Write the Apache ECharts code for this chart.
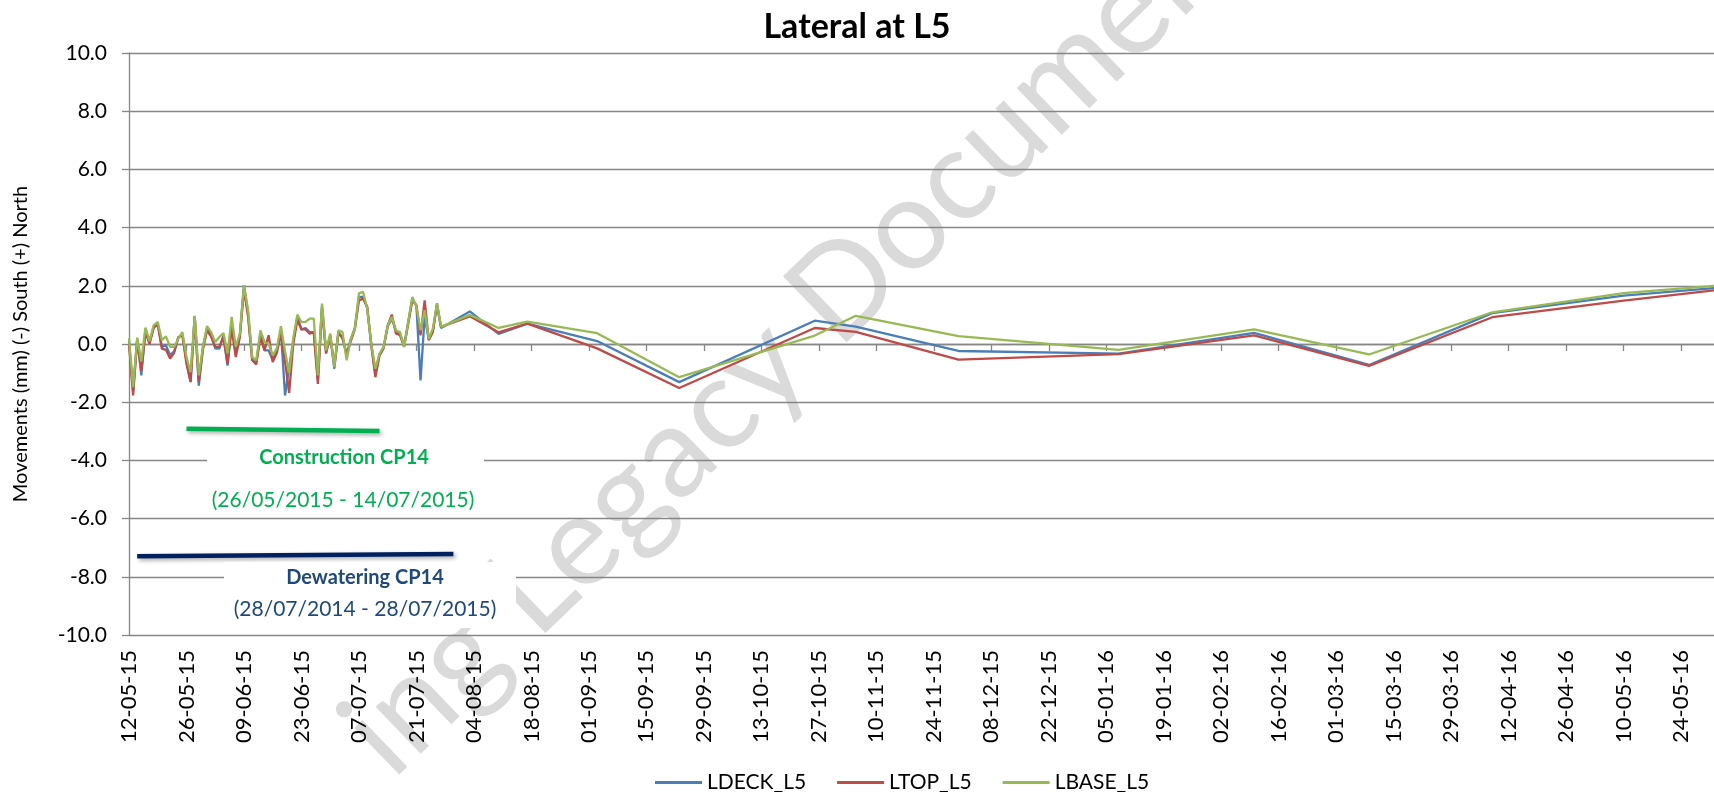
<!DOCTYPE html>
<html>
<head>
<meta charset="utf-8">
<title>Lateral at L5</title>
<script src="https://cdn.jsdelivr.net/npm/echarts@6/dist/echarts.min.js"></script>
<style>
  html, body { margin: 0; padding: 0; background: #ffffff; }
  #chart { width: 1714px; height: 792px; }
</style>
</head>
<body>
<div id="chart"></div>
<script>
// survey dates (readings)
const readingDates = [
  "2015-05-12", "2015-05-13", "2015-05-14", "2015-05-15", "2015-05-16", "2015-05-17", "2015-05-18", "2015-05-19", "2015-05-20", "2015-05-21",
  "2015-05-22", "2015-05-23", "2015-05-24", "2015-05-25", "2015-05-26", "2015-05-27", "2015-05-28", "2015-05-29", "2015-05-30", "2015-05-31",
  "2015-06-01", "2015-06-02", "2015-06-03", "2015-06-04", "2015-06-05", "2015-06-06", "2015-06-07", "2015-06-08", "2015-06-09", "2015-06-10",
  "2015-06-11", "2015-06-12", "2015-06-13", "2015-06-14", "2015-06-15", "2015-06-16", "2015-06-17", "2015-06-18", "2015-06-19", "2015-06-20",
  "2015-06-21", "2015-06-22", "2015-06-23", "2015-06-24", "2015-06-25", "2015-06-26", "2015-06-27", "2015-06-28", "2015-06-29", "2015-06-30",
  "2015-07-01", "2015-07-02", "2015-07-03", "2015-07-04", "2015-07-05", "2015-07-06", "2015-07-07", "2015-07-08", "2015-07-09", "2015-07-10",
  "2015-07-11", "2015-07-12", "2015-07-13", "2015-07-14", "2015-07-15", "2015-07-16", "2015-07-17", "2015-07-18", "2015-07-20",
  "2015-07-21", "2015-07-22", "2015-07-23", "2015-07-24", "2015-07-25", "2015-07-26", "2015-07-27",
  "2015-08-03", "2015-08-10", "2015-08-17", "2015-09-03", "2015-09-23", "2015-10-26", "2015-11-05", "2015-11-30",
  "2016-01-08", "2016-02-10", "2016-03-09", "2016-04-08", "2016-05-10", "2016-06-01"
];

const ldeckL5 = [
  0.1, -1.62, 0.18, -1.08, 0.48, 0.05, 0.58, 0.7, -0.1, -0.05,
  -0.38, -0.25, 0.2, 0.35, -0.6, -1.3, 0.95, -1.43, -0.1, 0.55,
  0.3, -0.15, -0.16, 0.3, -0.74, 0.76, -0.33, 0.3, 2.02, 1.05,
  -0.5, -0.62, 0.38, -0.22, -0.22, -0.56, -0.2, 0.45, -1.77, -0.8,
  0.1, 0.93, 0.5, 0.55, 0.41, 0.41, -1.25, 1.3, -0.28, 0.3,
  -0.85, 0.42, 0.18, -0.33, 0.15, 0.55, 1.62, 1.62, 1.25, 0.0,
  -1.02, -0.38, -0.12, 0.6, 0.87, 0.47, 0.35, -0.05, 1.56,
  1.3, -1.25, 0.93, 0.15, 0.45, 1.33, 0.55,
  1.12, 0.35, 0.7, 0.1, -1.31, 0.8, 0.6, -0.24,
  -0.33, 0.38, -0.72, 1.06, 1.66, 1.92
];

const ltopL5 = [
  0.0, -1.77, 0.15, -0.92, 0.41, 0.0, 0.55, 0.68, -0.16, -0.2,
  -0.5, -0.3, 0.24, 0.3, -0.68, -1.31, 0.93, -1.31, -0.2, 0.47,
  0.25, -0.1, -0.1, 0.24, -0.68, 0.53, -0.45, 0.24, 1.88, 0.93,
  -0.56, -0.7, 0.24, -0.22, 0.3, -0.62, -0.3, 0.36, -0.6, -1.68,
  0.0, 0.82, 0.5, 0.5, 0.35, 0.41, -1.37, 1.22, -0.33, 0.3,
  -0.74, 0.36, 0.24, -0.39, 0.1, 0.5, 1.5, 1.56, 1.28, -0.05,
  -1.14, -0.4, -0.15, 0.64, 1.01, 0.36, 0.3, -0.1, 1.5,
  1.33, 0.3, 1.5, 0.13, 0.41, 1.39, 0.59,
  0.95, 0.4, 0.7, -0.15, -1.51, 0.55, 0.42, -0.54,
  -0.35, 0.3, -0.75, 0.92, 1.49, 1.84
];

const lbaseL5 = [
  0.2, -1.48, 0.22, -0.6, 0.56, 0.1, 0.64, 0.76, 0.13, 0.26,
  -0.1, -0.1, 0.18, 0.41, -0.45, -0.97, 0.97, -1.08, -0.1, 0.61,
  0.41, 0.07, 0.24, 0.38, -0.33, 0.93, -0.1, 0.36, 2.02, 1.16,
  -0.45, -0.56, 0.47, 0.07, 0.01, -0.39, -0.15, 0.61, -0.25, -1.0,
  0.2, 1.01, 0.75, 0.76, 0.87, 0.87, -1.08, 1.39, -0.22, 0.36,
  -0.79, 0.47, 0.41, -0.56, 0.18, 0.53, 1.74, 1.79, 1.22, 0.0,
  -0.85, -0.33, -0.1, 0.64, 0.93, 0.47, 0.41, -0.1, 1.62,
  1.28, 0.47, 1.16, 0.18, 0.53, 1.39, 0.59,
  1.0, 0.55, 0.77, 0.37, -1.14, 0.29, 0.97, 0.27,
  -0.2, 0.5, -0.36, 1.09, 1.75, 2.0
];

// activity bars drawn on the chart (date, level)
const constructionBar = [["2015-05-26", -2.91], ["2015-07-12", -2.99]];
const dewateringBar = [["2015-05-14", -7.29], ["2015-07-30", -7.22]];

const axisStart = "2015-05-12";
const axisEnd = "2016-06-01";
const tickDays = 14;
const yMin = -10, yMax = 10, yStep = 2;

const DAY = 86400000;
const toMs = (s) => { const p = s.split("-"); return Date.UTC(+p[0], +p[1] - 1, +p[2]); };
const base = toMs(axisStart);
const toDay = (s) => (toMs(s) - base) / DAY;
const pad = (n) => (n < 10 ? "0" : "") + n;
const dayLabel = (v) => {
  const d = new Date(base + v * DAY);
  return pad(d.getUTCDate()) + "-" + pad(d.getUTCMonth() + 1) + "-" + pad(d.getUTCFullYear() % 100);
};
const pairs = (vals) => readingDates.map((d, i) => [toDay(d), vals[i]]);
const barPairs = (bar) => bar.map((p) => [toDay(p[0]), p[1]]);

const FONT = "Lato, 'Noto Sans', sans-serif";
const GRID_GREY = "#868686";

const mychart = echarts.init(document.getElementById("chart"));

const option = {
  backgroundColor: "#ffffff",
  animation: false,
  textStyle: { fontFamily: FONT },
  title: {
    text: "Lateral at L5",
    left: "center",
    top: 5,
    textStyle: { fontFamily: FONT, fontSize: 34, fontWeight: "bold", color: "#000000" },
  },
  grid: { left: 129, right: 0, top: 53, bottom: 157, containLabel: false },
  legend: {
    left: 650,
    top: 767,
    icon: "rect",
    itemWidth: 47,
    itemHeight: 3,
    itemGap: 31,
    textStyle: { fontFamily: FONT, fontSize: 21, color: "#000000" },
    data: ["LDECK_L5", "LTOP_L5", "LBASE_L5"],
  },
  xAxis: {
    type: "value",
    min: 0,
    max: toDay(axisEnd),
    interval: tickDays,
    axisLine: { lineStyle: { color: GRID_GREY, width: 1.3 } },
    axisTick: { show: true, length: 7, lineStyle: { color: GRID_GREY, width: 1.3 } },
    splitLine: { show: false },
    axisLabel: {
      rotate: 90,
      margin: 15,
      fontSize: 22,
      color: "#000000",
      fontFamily: FONT,
      showMaxLabel: false,
      formatter: dayLabel,
    },
  },
  yAxis: {
    type: "value",
    min: yMin,
    max: yMax,
    interval: yStep,
    name: "Movements (mm) (-) South (+) North",
    nameLocation: "middle",
    nameGap: 98,
    nameTextStyle: { fontFamily: FONT, fontSize: 20, color: "#000000" },
    axisLine: { show: true, lineStyle: { color: GRID_GREY, width: 1.3 } },
    axisTick: { show: true, length: 7, lineStyle: { color: GRID_GREY, width: 1.3 } },
    splitLine: { show: true, lineStyle: { color: GRID_GREY, width: 1.3 } },
    axisLabel: {
      margin: 22,
      fontSize: 21,
      color: "#000000",
      fontFamily: FONT,
      formatter: (v) => v.toFixed(1),
    },
  },
  graphic: [
    {
      type: "text",
      z: -10,
      silent: true,
      x: 799,
      y: 331,
      rotation: (44 * Math.PI) / 180,
      style: {
        text: "ing Legacy Document",
        fontFamily: FONT,
        fontSize: 128,
        fill: "#dadada",
        align: "center",
        verticalAlign: "middle",
      },
    },
    { type: "rect", z: 50, silent: true, shape: { x: 207, y: 438, width: 277, height: 76 }, style: { fill: "#ffffff" } },
    { type: "rect", z: 50, silent: true, shape: { x: 224, y: 562, width: 292, height: 66 }, style: { fill: "#ffffff" } },
    {
      type: "text", z: 51, silent: true, x: 344, y: 458,
      style: { text: "Construction CP14", fontFamily: FONT, fontSize: 20, fontWeight: "bold", fill: "#00B050", align: "center", verticalAlign: "middle" },
    },
    {
      type: "text", z: 51, silent: true, x: 343, y: 500,
      style: { text: "(26/05/2015 - 14/07/2015)", fontFamily: FONT, fontSize: 21, fill: "#00B050", align: "center", verticalAlign: "middle" },
    },
    {
      type: "text", z: 51, silent: true, x: 365, y: 578,
      style: { text: "Dewatering CP14", fontFamily: FONT, fontSize: 20, fontWeight: "bold", fill: "#1F497D", align: "center", verticalAlign: "middle" },
    },
    {
      type: "text", z: 51, silent: true, x: 365, y: 609,
      style: { text: "(28/07/2014 - 28/07/2015)", fontFamily: FONT, fontSize: 21, fill: "#1F497D", align: "center", verticalAlign: "middle" },
    },
  ],
  series: [
    {
      name: "LDECK_L5",
      type: "line",
      data: pairs(ldeckL5),
      symbol: "none",
      color: "#4A7EBB",
      lineStyle: { width: 2.3, color: "#4A7EBB" },
    },
    {
      name: "LTOP_L5",
      type: "line",
      data: pairs(ltopL5),
      symbol: "none",
      color: "#BE4B48",
      lineStyle: { width: 2.3, color: "#BE4B48" },
    },
    {
      name: "LBASE_L5",
      type: "line",
      data: pairs(lbaseL5),
      symbol: "none",
      color: "#98B954",
      lineStyle: { width: 2.3, color: "#98B954" },
    },
    {
      name: "construction",
      type: "line",
      data: barPairs(constructionBar),
      symbol: "none",
      silent: true,
      z: 3,
      lineStyle: { width: 4.5, color: "#00B050", shadowColor: "rgba(0,0,0,0.35)", shadowBlur: 4, shadowOffsetX: 2, shadowOffsetY: 2 },
    },
    {
      name: "dewatering",
      type: "line",
      data: barPairs(dewateringBar),
      symbol: "none",
      silent: true,
      z: 3,
      lineStyle: { width: 4.5, color: "#002060", shadowColor: "rgba(0,0,0,0.35)", shadowBlur: 4, shadowOffsetX: 2, shadowOffsetY: 2 },
    },
  ],
};

mychart.setOption(option);
window.addEventListener("resize", () => {
  mychart.resize();
});
</script>
</body>
</html>
